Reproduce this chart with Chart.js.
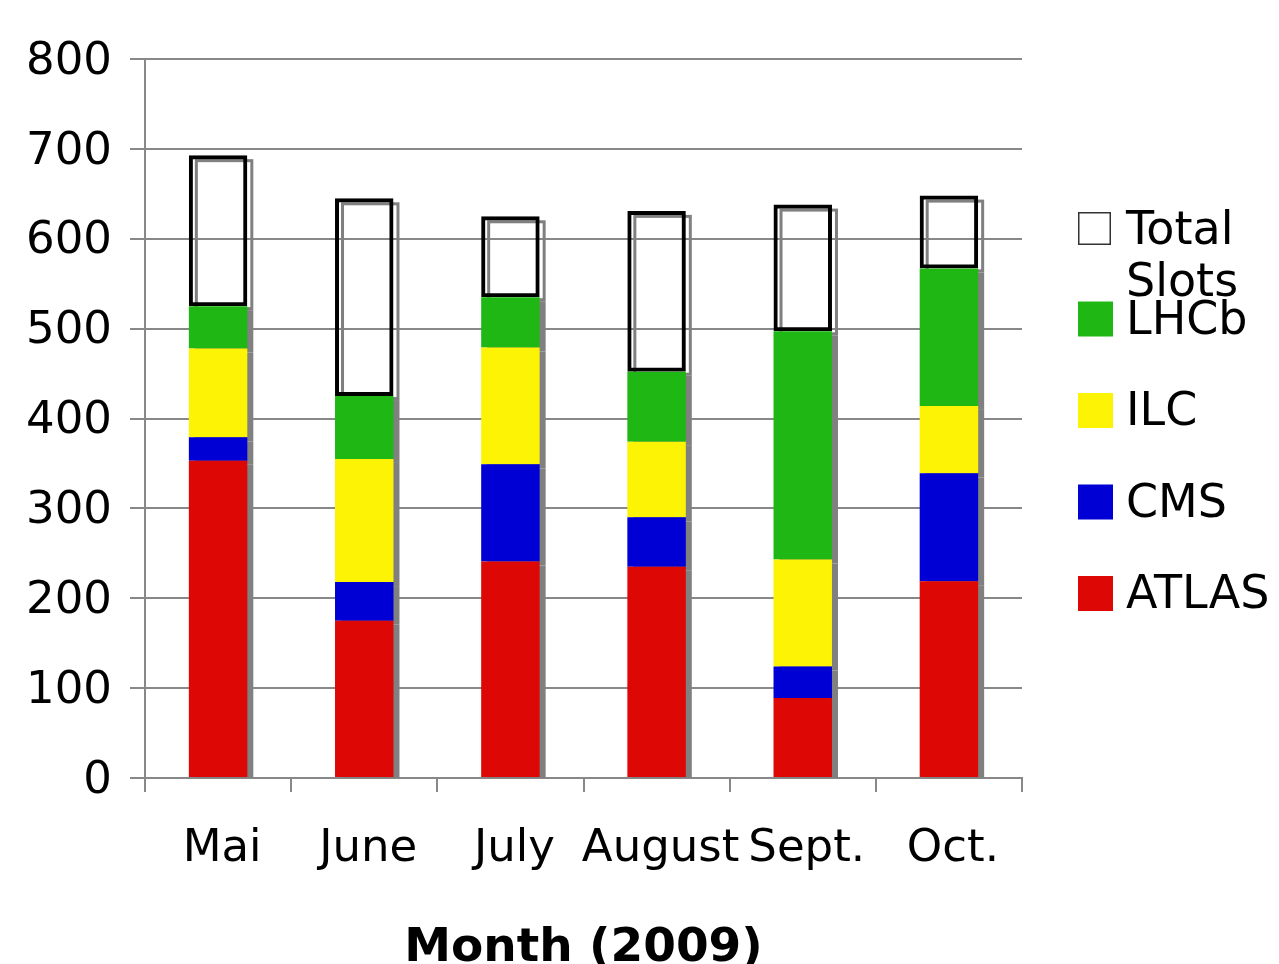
<!DOCTYPE html>
<html>
<head>
<meta charset="utf-8">
<script src="https://cdn.jsdelivr.net/npm/chart.js@4/dist/chart.umd.min.js"></script>
<style>
  body { margin: 0; background: #fff; }
  #slotsChart { display: block; }
</style>
</head>
<body>
<canvas id="slotsChart" width="1279" height="964"></canvas>
<script>
// Month labels and slot usage per experiment
const months = ['Mai', 'June', 'July', 'August', 'Sept.', 'Oct.'];
const atlas = [353, 175, 241, 235, 89, 219];
const cms = [26, 43, 108, 55, 35, 120];
const ilc = [99, 137, 130, 84, 119, 75];
const lhcb = [47, 70, 56, 78, 254, 153];
const freeSlots = [168, 220, 90, 179, 141, 81]; // rest of the total slots on top
const yTicks = [0, 100, 200, 300, 400, 500, 600, 700, 800];

const FONT = 'DejaVu Sans';
const shadowGray = '#808080';

// draws the grey drop shadow behind every bar (offset right and down)
const shadowPlugin = {
    id: 'barShadow',
    beforeDatasetsDraw(chart) {
        const ctx = chart.ctx;
        const area = chart.chartArea;
        ctx.save();
        ctx.beginPath();
        ctx.rect(area.left, area.top, area.right - area.left + 20, area.bottom - area.top);
        ctx.clip();
        chart.data.datasets.forEach((ds, i) => {
            const meta = chart.getDatasetMeta(i);
            meta.data.forEach(bar => {
                const p = bar.getProps(['x', 'y', 'base', 'width'], true);
                const left = p.x - p.width / 2 + 6;
                const top = Math.min(p.y, p.base) + 4;
                const h = Math.abs(p.base - p.y);
                if (ds.outline) {
                    ctx.strokeStyle = shadowGray;
                    ctx.lineWidth = 3;
                    ctx.strokeRect(left + 1.5, top + 1.5, p.width - 3, h - 3);
                } else {
                    ctx.fillStyle = shadowGray;
                    ctx.fillRect(left, top, p.width, h);
                }
            });
        });
        ctx.restore();
    }
};

// legend on the right, top item first (reverse of stacking order)
const legendPlugin = {
    id: 'sideLegend',
    afterDraw(chart) {
        const ctx = chart.ctx;
        const x0 = 1078, y0 = 212, step = 91.5, size = 35;
        ctx.save();
        ctx.font = '46px "' + FONT + '"';
        ctx.textBaseline = 'middle';
        ctx.fillStyle = '#000';
        const items = chart.data.datasets.slice().reverse();
        items.forEach((ds, i) => {
            const y = y0 + i * step - (i === 0 ? 0 : 2);
            if (ds.outline) {
                ctx.fillStyle = '#fff';
                ctx.fillRect(x0, y, 33, 33);
                ctx.strokeStyle = '#333';
                ctx.lineWidth = 1.5;
                ctx.strokeRect(x0 + 0.75, y + 0.75, 31.5, 31.5);
            } else {
                ctx.fillStyle = ds.backgroundColor;
                ctx.fillRect(x0, y, size, size);
            }
            ctx.fillStyle = '#000';
            const lines = ds.label.split(' ');
            const cy = y + (ds.outline ? 17 : size / 2) + 3;
            if (ds.outline) {
                lines.forEach((t, k) => ctx.fillText(t, 1126, cy + k * 52));
            } else {
                ctx.fillText(ds.label, 1126, cy);
            }
        });
        ctx.restore();
    }
};

const ctx = document.getElementById('slotsChart').getContext('2d');
new Chart(ctx, {
    type: 'bar',
    data: {
        labels: months,
        datasets: [
            { label: 'ATLAS', data: atlas, backgroundColor: '#DD0806', borderWidth: 0 },
            { label: 'CMS', data: cms, backgroundColor: '#0000D4', borderWidth: 0 },
            { label: 'ILC', data: ilc, backgroundColor: '#FCF305', borderWidth: 0 },
            { label: 'LHCb', data: lhcb, backgroundColor: '#1FB714', borderWidth: 0 },
            {
                label: 'Total Slots',
                data: freeSlots,
                backgroundColor: 'rgba(0,0,0,0)',
                borderColor: '#000',
                borderWidth: 4,
                borderSkipped: false,
                outline: true
            }
        ]
    },
    options: {
        responsive: false,
        animation: false,
        devicePixelRatio: 1,
        categoryPercentage: 1,
        barPercentage: 0.4,
        layout: { padding: { top: 59, right: 257, bottom: 0, left: 0 } },
        plugins: {
            legend: { display: false },
            tooltip: { enabled: false }
        },
        scales: {
            x: {
                stacked: true,
                afterFit(axis) { axis.height = 186; },
                grid: {
                    offset: true,
                    drawOnChartArea: false,
                    color: '#888',
                    lineWidth: 2,
                    tickLength: 14
                },
                border: { color: '#888', width: 2 },
                ticks: {
                    color: '#000',
                    padding: 30,
                    labelOffset: 4,
                    autoSkip: false,
                    maxRotation: 0,
                    font: { family: FONT, size: 45 }
                },
                title: {
                    display: true,
                    text: 'Month (2009)',
                    color: '#000',
                    padding: 0,
                    font: { family: FONT, size: 47, weight: 'bold', lineHeight: 0.65 }
                }
            },
            y: {
                stacked: true,
                min: 0,
                max: 800,
                afterFit(axis) { axis.width = 145; },
                afterBuildTicks(axis) { axis.ticks = yTicks.map(v => ({ value: v })); },
                grid: { color: '#888', lineWidth: 2, tickLength: 15 },
                border: { color: '#888', width: 2 },
                ticks: {
                    color: '#000',
                    padding: 18,
                    labelOffset: 3,
                    font: { family: FONT, size: 45 }
                }
            }
        }
    },
    plugins: [shadowPlugin, legendPlugin]
});
</script>
</body>
</html>
